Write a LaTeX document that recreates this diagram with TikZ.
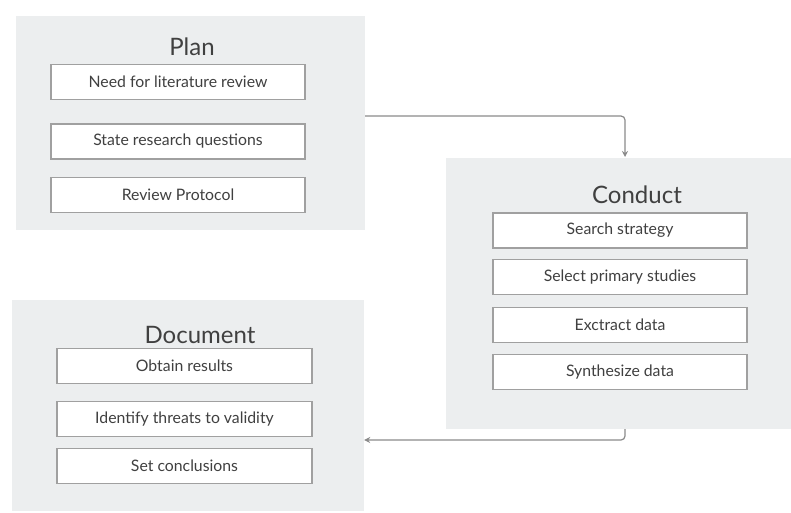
\documentclass[tikz,border=0pt]{standalone}
\usepackage{fontspec}
\setmainfont{Lato}
\usetikzlibrary{arrows.meta}
\definecolor{panelfill}{HTML}{ECEEEF}
\definecolor{boxline}{HTML}{A0A0A0}
\definecolor{txt}{HTML}{404040}
\definecolor{arrowc}{HTML}{8A8A8A}
\tikzset{
  panel/.style={rectangle, fill=panelfill, draw=none, inner sep=0pt},
  stepbox/.style={rectangle, fill=white, draw=boxline, line width=1.2pt, inner sep=0pt,
     minimum width=254pt, minimum height=35pt, text=txt, font=\fontsize{15.8}{17}\selectfont},
  ttl/.style={anchor=base, text=txt, font=\fontsize{24}{28}\selectfont, inner sep=0pt},
  flow/.style={draw=arrowc, line width=1.2pt, rounded corners=4pt, -{Stealth[length=6pt,width=6pt]}}
}
\begin{document}
\begin{tikzpicture}[x=1pt,y=-1pt]
\useasboundingbox (0,0) rectangle (791,512);
% panels
\node[panel, minimum width=349pt, minimum height=214pt] (plan) at (190.5,123) {};
\node[panel, minimum width=345pt, minimum height=271pt] (conduct) at (618.5,293.5) {};
\node[panel, minimum width=352pt, minimum height=211pt] (document) at (188,405.5) {};
% titles
\node[ttl] (plant) at (192,55) {Plan};
\node[ttl] (conductt) at (637,203) {Conduct};
\node[ttl] (documentt) at (200,343) {Document};
% plan boxes
\node[stepbox] (p1) at (178,82) {Need for literature review};
\node[stepbox] (p2) at (178,141.5) {State research questions};
\node[stepbox] (p3) at (178,195) {Review Protocol};
% conduct boxes
\node[stepbox] (c1) at (620,230.5) {Search strategy};
\node[stepbox] (c2) at (620,277) {Select primary studies};
\node[stepbox] (c3) at (620,325) {Exctract data};
\node[stepbox] (c4) at (620,372) {Synthesize data};
% document boxes
\node[stepbox, minimum width=255pt] (d1) at (184.5,366) {Obtain results};
\node[stepbox, minimum width=255pt] (d2) at (184.5,419) {Identify threats to validity};
\node[stepbox, minimum width=255pt] (d3) at (184.5,466) {Set conclusions};
% connectors
\coordinate (a1s) at (365,116);
\coordinate (a1e) at (625,157);
\coordinate (a2s) at (625,429);
\coordinate (a2e) at (364,440);
\draw[flow] (plan.east |- a1s) -| (a1e);
\draw[flow] (a2s) |- (document.east |- a2e);
\end{tikzpicture}
\end{document}
